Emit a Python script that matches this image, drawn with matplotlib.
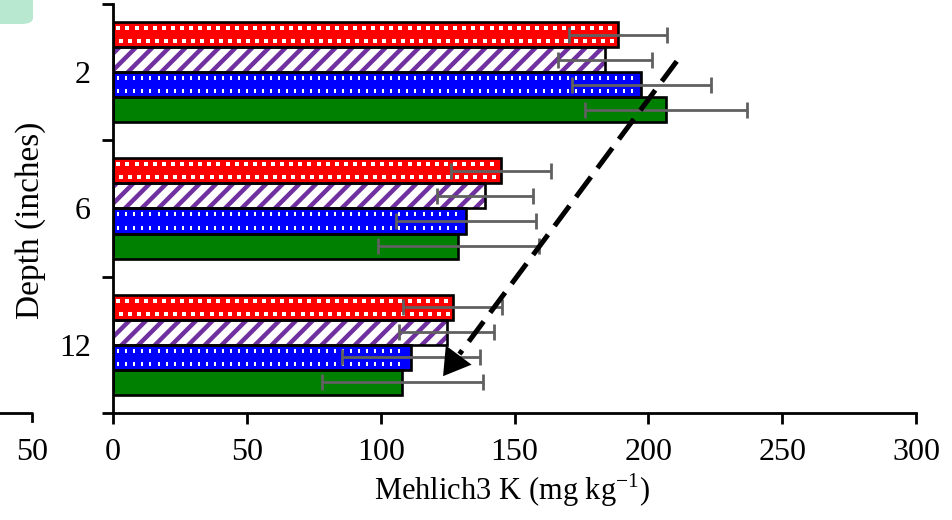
import numpy as np
import matplotlib.pyplot as plt
from matplotlib.patches import FancyBboxPatch
from matplotlib.lines import Line2D

plt.rcParams['font.family'] = ['Liberation Serif', 'DejaVu Serif']
plt.rcParams['mathtext.fontset'] = 'custom'
plt.rcParams['mathtext.rm'] = 'Liberation Serif'
plt.rcParams['hatch.linewidth'] = 3.2

# depth groups and treatment means / errors (mg kg-1)
depths = ['2', '6', '12']
red_vals = [188.8, 145.0, 126.9]
purple_vals = [183.8, 139.0, 124.7]
blue_vals = [197.3, 131.8, 111.2]
green_vals = [206.6, 129.0, 108.1]
red_err = [18.3, 18.6, 18.4]
purple_err = [17.7, 17.8, 17.8]
blue_err = [26.0, 26.2, 25.8]
green_err = [30.1, 30.0, 30.2]

# trend arrow (value, depth position)
arrow_start = (210.6, -0.08)
arrow_tip = (123.3, 2.23)

fig = plt.figure(figsize=(9.53, 5.2), dpi=100)
ax = fig.add_axes([0.1186, 0.2058, 0.8426, 0.7865])

y = np.arange(len(depths))
h = 0.184
offsets = [-1.5 * h, -0.5 * h, 0.5 * h, 1.5 * h]

series = [
    (red_vals, red_err, dict(color='#ff0000', edgecolor='#ff0000')),
    (purple_vals, purple_err, dict(color='white', edgecolor='#7030a0', hatch='//')),
    (blue_vals, blue_err, dict(color='#0000ff', edgecolor='#0000ff')),
    (green_vals, green_err, dict(color='#008000', edgecolor='#008000')),
]

for (vals, err, style), off in zip(series, offsets):
    pos = y + off
    ax.barh(pos, vals, height=h, linewidth=0, zorder=2, **style)
    ax.barh(pos, vals, height=h, facecolor='none', edgecolor='black',
            linewidth=1.9, zorder=3)
    ax.errorbar(vals, pos, xerr=err, fmt='none', ecolor='#606060',
                elinewidth=2, capsize=6, capthick=2, zorder=4)


def texture(vals, yc, marker, size, mew, step, stagger):
    # small white marks in two rows inside each bar
    for v, c in zip(vals, yc):
        for k, dy in enumerate((-0.048, 0.048)):
            xs = np.arange(2.0 + k * stagger, v - 1.5, step)
            ax.plot(xs, np.full_like(xs, c + dy), linestyle='none',
                    marker=marker, markersize=size, markeredgewidth=mew,
                    color='white', zorder=2.5)


texture(red_vals, y + offsets[0], 's', 2.2, 0, 3.4, 0.8)
texture(blue_vals, y + offsets[2], '|', 3.4, 1.4, 3.0, 0.0)

# dashed trend arrow
dx = arrow_tip[0] - arrow_start[0]
dy = arrow_tip[1] - arrow_start[1]
base = (arrow_start[0] + 0.93 * dx, arrow_start[1] + 0.93 * dy)
ax.plot([arrow_start[0], base[0]], [arrow_start[1], base[1]], color='black',
        linewidth=3.6, dashes=(5.0, 2.2), solid_capstyle='butt', zorder=5)
ax.annotate('', xy=arrow_tip, xytext=base,
            arrowprops=dict(arrowstyle='-|>,head_length=0.9,head_width=0.55',
                            color='black', lw=0, mutation_scale=21,
                            shrinkA=0, shrinkB=0), zorder=6)

ax.set_xlim(0, 300)
ax.set_ylim(2.5, -0.5)
ax.set_xticks(np.arange(0, 301, 50))
ax.set_yticks(y)
ax.set_yticklabels(depths)
ax.set_yticks([-0.5, 0.5, 1.5, 2.5], minor=True)
ax.tick_params(axis='y', which='major', length=0, pad=16, labelsize=23)
ax.tick_params(axis='y', which='minor', length=8, width=2, direction='out')
ax.tick_params(axis='x', length=8, width=2, direction='out', pad=10,
               labelsize=23)

for s in ('top', 'right'):
    ax.spines[s].set_visible(False)
for s in ('left', 'bottom'):
    ax.spines[s].set_linewidth(2)

ax.set_xlabel('Mehlich3 K (mg kg$^{\\mathregular{-1}}$)', fontsize=22)
ax.xaxis.label.set_va('center')
ax.xaxis.set_label_coords(0.497, -0.19)
ax.set_ylabel('Depth (inches)', fontsize=24)
ax.yaxis.label.set_va('center')
ax.yaxis.set_label_coords(-0.103, 0.47)

# edge of the neighbouring panel on the left
W, H = 953, 520
fig.add_artist(Line2D([0, 32 / W, 32 / W], [1 - 413 / H, 1 - 413 / H, 1 - 421 / H],
                      color='black', linewidth=2, transform=fig.transFigure))
fig.text(32 / W, 1 - 452 / H, '50', fontsize=23, ha='center', va='center')
fig.add_artist(FancyBboxPatch((-20 / W, 1 - 24 / H), 53 / W, 44 / H,
                              boxstyle='round,pad=0,rounding_size=0.012',
                              facecolor='#b8e8d0', edgecolor='none',
                              transform=fig.transFigure))

fig.savefig('out.png', dpi=100)
